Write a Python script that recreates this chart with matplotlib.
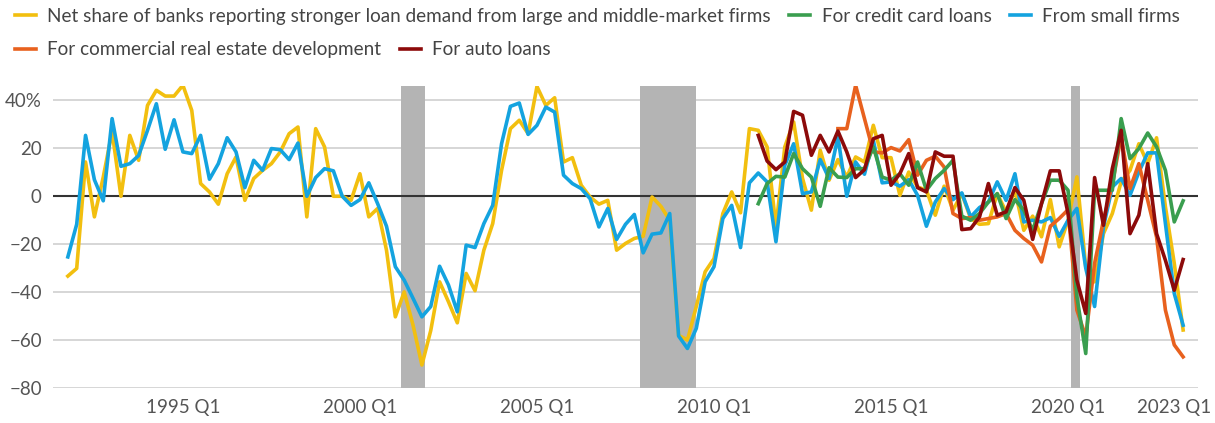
import numpy as np
import pandas as pd
import matplotlib
matplotlib.use("Agg")
import matplotlib.pyplot as plt
from matplotlib.lines import Line2D

plt.rcParams['font.family'] = ['Lato', 'DejaVu Sans']

# %% data (net % of banks reporting stronger demand), quarterly 1991 Q4 - 2023 Q2
quarters = pd.period_range('1991Q4', '2023Q2', freq='Q')

large_firms = [
    -33.3, -30.1, 14.3, -8.6, 8, 27, 0, 25.4, 15, 37.9,
    44.2, 41.8, 41.8, 46.3, 35.8, 5.3, 1.8, -3.3, 9.4, 16.4,
    -1.7, 7.4, 10.8, 13.6, 18.5, 26.1, 28.9, -8.6, 28.2, 20.6,
    0, 0, -1.7, 9.4, -8.6, -5.1, -22.5, -50.3, -39.9, -53.8,
    -70.4, -56, -35.7, -44, -52.8, -32.2, -39.4, -22.5, -11.4, 10.8,
    28.2, 31.7, 26.1, 45.8, 37.9, 41.1, 14.3, 16.1, 4.6, -0.3,
    -3.3, -1.7, -22.5, -19.7, -17.6, -16.7, -0.3, -4.2, -10, -58,
    -60, -46, -31.5, -26, -7.2, 1.8, -6.9, 28.2, 27.5, 20.6,
    -12.8, 20.6, 31, 7.5, -5.8, 19.2, 6.7, 15.3, 8, 16.4,
    14.3, 29.6, 16.1, 16.1, 0.4, 10.1, 3.9, 2.5, -7.9, 4.2,
    -5.8, 1.1, -9.3, -11.7, -11.4, 1.1, -6.5, 2.5, -14.2, -8.3,
    -16.9, -1.4, -21.1, -10, 8.1, -29.4, -35.7, -15.6, -7.2, 6,
    10.8, 21.9, 13.6, 24.4, -4.4, -28, -55.8,
]

small_firms = [
    -25.3, -11.7, 25.4, 6.9, -1.9, 32.4, 12.5, 13.6, 17, 27.5,
    38.6, 19.6, 31.9, 18.5, 17.8, 25.4, 7.1, 13.6, 24.4, 18.5,
    3.6, 15, 10.8, 19.9, 19.4, 15.3, 22.2, 0, 7.8, 11.5,
    10.6, 0, -3.8, -1.4, 5.6, -3.1, -12.5, -29.4, -35, -42.6,
    -50.3, -46, -29.2, -37, -48.2, -20.4, -21.4, -11.4, -3.8, 21.9,
    37.5, 38.9, 25.8, 29.6, 37.2, 35.1, 8.8, 5.3, 3.2, -1,
    -12.8, -5.1, -18, -11.7, -7.6, -23.6, -15.8, -15.3, -7.2, -58.3,
    -63.5, -55.1, -35.7, -29.4, -9.3, -3.8, -21.4, 5.6, 9.7, 6,
    -19, 12.9, 21.9, 1.1, 1.8, 15.3, 7.4, 24.7, 0, 14.3,
    9.2, 23.3, 5.6, 6, 4.2, 6.9, 0.4, -12.5, -2.4, 3.2,
    -1.4, 1.4, -8.6, -4.7, -2.4, 6, -1.7, 9.4, -10.7, -10,
    -10.7, -8.9, -16.7, -10, -5.1, -30, -46, -12.8, 3.9, 7.4,
    0.4, 10.1, 18.1, 18.1, -11.4, -40.6, -53.8,
]

# from 2011 Q2
credit_card = [
    -3.1, 5.3, 8.3, 8, 17.8, 11.5, 8, -4.2, 11.9, 8,
    7.8, 11.5, 11.5, 20.6, 8, 6.7, 9.4, 4.6, 14.3, 2.5,
    7.4, 10.8, 15, -8.3, -10, -7.2, -2.4, 1.1, -9.3, -1.4,
    -5.8, -14.2, -3.1, 6.7, 6.7, 2.5, -41.9, -65.6, 2.5, 2.5,
    2.5, 32.4, 15.7, 19.9, 26.4, 20.6, 10.8, -10.7, -1.9,
]

auto = [
    25.4, 14.7, 11.1, 14.3, 35.4, 33.8, 17.1, 25.4, 18.5, 27.2,
    18.5, 7.8, 11.1, 24, 25.4, 4.6, 9.4, 17.8, 3.6, 1.8,
    18.5, 16.7, 16.7, -13.9, -13.5, -8.6, 5.3, -7.9, -6.5, 3.6,
    -1.7, -18, -3.1, 10.6, 10.6, -7.2, -35, -48.9, 7.8, -12.1,
    11.5, 27.5, -15.6, -7.9, 13.6, -15.6, -26.7, -39.2, -26.4,
]

# from 2013 Q4
cre = [
    28.2, 28.2, 46.3, 32.4, 18.5, 18.1, 20.3, 18.9, 23.6, 8.8,
    15, 16.7, 12.2, -7.2, -9.3, -8.9, -10, -9.3, -8.6, -7.2,
    -14.2, -17.6, -20.4, -27.4, -12.5, -9.3, -5.6, -47.5, -58.6, -28,
    -10, 5, 25, 3.2, 13.6, -1.7, -17, -47.5, -62, -67,
]

recessions = [(2001.17, 2001.83), (2007.92, 2009.5), (2020.08, 2020.34)]
tick_years = [1995, 2000, 2005, 2010, 2015, 2020, 2023]
tick_labels = [f'{y} Q1' for y in tick_years]

colors = {
    'large': '#f2bf0f',
    'cc': '#3a9e4f',
    'small': '#14a3df',
    'cre': '#e8611e',
    'auto': '#8c0a0a',
}

# %% plot
t = quarters.year + (quarters.quarter - 1) / 4.0
t = np.asarray(t, dtype=float)

fig = plt.figure(figsize=(12.15, 4.23), dpi=100)
ax = fig.add_axes([0.0436, 0.0827, 0.9424, 0.714])

for x0, x1 in recessions:
    ax.axvspan(x0, x1, color='#b4b4b4', lw=0, zorder=1)

for v in [-80, -60, -40, -20, 20, 40]:
    ax.axhline(v, color='#cfcfcf', lw=1.2, zorder=0)
ax.axhline(0, color='#333333', lw=1.5, zorder=2)

lw = 2.6
ax.plot(t, large_firms, color=colors['large'], lw=lw, zorder=3)
ax.plot(t, small_firms, color=colors['small'], lw=lw, zorder=4)
ax.plot(t[-len(cre):], cre, color=colors['cre'], lw=lw, zorder=5)
ax.plot(t[-len(credit_card):], credit_card, color=colors['cc'], lw=lw, zorder=6)
ax.plot(t[-len(auto):], auto, color=colors['auto'], lw=lw, zorder=7)

ax.set_xlim(1991.33, 2023.67)
ax.set_ylim(-80, 46)
ax.set_yticks([-80, -60, -40, -20, 0, 20, 40])
ax.set_yticklabels(['\u221280', '\u221260', '\u221240', '\u221220', '0', '20', '40%'])
ax.set_xticks(tick_years)
ax.set_xticklabels(tick_labels)
ax.tick_params(length=0, labelsize=13.5, colors='#555555', pad=8)
ax.tick_params(axis='y', pad=8)
for s in ax.spines.values():
    s.set_visible(False)

def handle(c):
    return Line2D([], [], color=c, lw=2.6)

leg_kw = dict(frameon=False, fontsize=13.6, handlelength=1.1, handletextpad=0.6,
              columnspacing=1.0, borderaxespad=0, labelcolor='#444444')
l1 = fig.legend([handle(colors['large']), handle(colors['cc']), handle(colors['small'])],
                ['Net share of banks reporting stronger loan demand from large and middle-market firms',
                 'For credit card loans', 'From small firms'],
                ncol=3, loc='upper left', bbox_to_anchor=(0.006, 1.0), **leg_kw)
l2 = fig.legend([handle(colors['cre']), handle(colors['auto'])],
                ['For commercial real estate development', 'For auto loans'],
                ncol=2, loc='upper left', bbox_to_anchor=(0.006, 0.92), **leg_kw)

fig.savefig('out.png', dpi=100)
